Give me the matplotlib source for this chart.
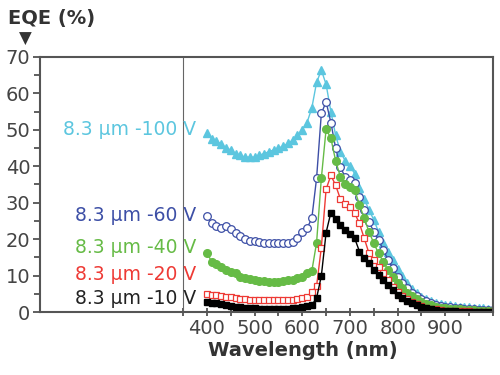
import numpy as np
import matplotlib
matplotlib.use('Agg')
from matplotlib import pyplot as plt

wavelength = list(range(400, 1001, 10))

eqe_100 = [49, 47.5, 47, 46, 45, 44.5, 43.5, 43, 42.5, 42.5,
           42.5, 43, 43.5, 44, 44.5, 45, 45.5, 46.3, 47.2, 48.5,
           50, 52, 56, 63, 66.4, 62.5, 55, 48.5, 44, 41.5,
           40, 38, 34, 31, 28, 25.3, 22, 19, 16.6, 14.3,
           11.8, 9.8, 8, 6.4, 5.2, 4.2, 3.5, 3, 2.6, 2.3,
           2.0, 1.8, 1.6, 1.5, 1.4, 1.3, 1.2, 1.1, 1.0, 0.9, 0.8]
eqe_60 = [26.4, 24.3, 23.6, 23, 23.6, 22.7, 21.8, 20.9, 20.1, 19.6,
          19.4, 19.3, 19, 19, 19, 19, 19, 19, 19.3, 20.2,
          22, 23, 25.7, 36.7, 54.5, 57.7, 52, 45, 39.8, 37,
          36.2, 35.3, 31.7, 28, 24.8, 22, 19.8, 17, 14.3, 12,
          9.7, 7.9, 6.5, 5.3, 4.3, 3.5, 2.9, 2.4, 2.0, 1.7,
          1.5, 1.3, 1.1, 1.0, 0.9, 0.8, 0.7, 0.6, 0.6, 0.5, 0.5]
eqe_40 = [16.3, 13.8, 13.2, 12.4, 11.5, 11.1, 10.6, 9.5, 9.2, 9.0,
          8.8, 8.6, 8.4, 8.3, 8.3, 8.3, 8.4, 8.8, 8.8, 9.2,
          9.7, 10.6, 11.2, 19, 36.7, 50.2, 47.7, 41.5, 37.1, 35,
          34.4, 33.5, 29.4, 25.7, 22, 18.9, 16.1, 13.8, 11.5, 9.7,
          7.9, 6.5, 5.1, 4.3, 3.5, 2.8, 2.2, 1.8, 1.5, 1.2,
          1.0, 0.9, 0.8, 0.7, 0.6, 0.5, 0.5, 0.4, 0.4, 0.4, 0.4]
eqe_20 = [4.9, 4.7, 4.6, 4.5, 4.2, 4.0, 3.8, 3.6, 3.5, 3.3,
          3.3, 3.3, 3.3, 3.3, 3.3, 3.3, 3.3, 3.3, 3.4, 3.5,
          3.8, 4.2, 5.5, 7.1, 17.7, 33.7, 37.5, 34.8, 31, 29.6,
          28.7, 27.1, 24.3, 20.2, 16.1, 14.3, 12.4, 10.6, 8.8, 6.9,
          5.6, 4.4, 3.5, 2.8, 2.2, 1.6, 1.2, 0.9, 0.7, 0.5,
          0.4, 0.3, 0.3, 0.2, 0.2, 0.2, 0.1, 0.1, 0.1, 0.1, 0.1]
eqe_10 = [2.7, 2.6, 2.4, 2.1, 1.8, 1.6, 1.5, 1.3, 1.2, 1.0,
          1.0, 0.9, 0.9, 0.9, 0.9, 0.9, 0.9, 0.9, 1.0, 1.1,
          1.3, 1.6, 1.9, 3.8, 9.9, 21.8, 27.3, 25.5, 23.9, 22.5,
          21.5, 20.2, 16.6, 14.7, 13.4, 11.5, 10.2, 8.8, 7.4, 6.0,
          4.7, 3.8, 3.1, 2.6, 1.9, 1.5, 1.1, 0.8, 0.6, 0.4,
          0.3, 0.2, 0.2, 0.1, 0.1, 0.1, 0.1, 0.1, 0.1, 0.1, 0.1]

labels = ['8.3 µm -100 V', '8.3 µm -60 V', '8.3 µm -40 V', '8.3 µm -20 V', '8.3 µm -10 V']
label_y = [50, 26.6, 17.8, 10.4, 3.8]

plt.rcParams['font.family'] = ['DejaVu Sans']

fig = plt.figure(figsize=(5, 3.75), dpi=100)
ax = fig.add_axes([0.08, 0.168, 0.906, 0.68])

ax.plot(wavelength, eqe_100, marker='^', color='#5cc6df', ms=6, lw=1, mec='#5cc6df')
ax.plot(wavelength, eqe_60, marker='o', color='#3d4fa6', mfc='white', ms=5.5, mew=0.9, lw=1)
ax.plot(wavelength, eqe_40, marker='o', color='#66bb46', ms=5.5, lw=1)
ax.plot(wavelength, eqe_20, marker='s', color='#ee3a35', mfc='white', ms=5, mew=0.9, lw=1)
ax.plot(wavelength, eqe_10, marker='s', color='black', ms=5, lw=1)

colors = ['#5cc6df', '#3d4fa6', '#66bb46', '#ee3a35', '#222222']
for lab, y, c in zip(labels, label_y, colors):
    ax.text(377, y, lab, color=c, fontsize=13.5, ha='right', va='center')

ax.axvline(350, color='#666666', lw=0.8)

ax.set_xlim(50, 1000)
ax.set_ylim(0, 70)
ax.set_xticks(range(350, 1001, 50))
ax.set_xticklabels(['' if t < 400 or t > 900 or t % 100 else str(t)
                    for t in range(350, 1001, 50)])
ax.set_yticks(range(0, 71, 10))
ax.set_yticks(range(5, 70, 10), minor=True)
ax.tick_params(axis='both', colors='#444444', labelsize=14, width=1.2, length=5)
ax.tick_params(axis='y', which='minor', width=1.2, length=4, colors='#444444')
ax.tick_params(axis='y', pad=2)
ax.tick_params(axis='x', direction='inout', length=6, pad=2)
for s in ax.spines.values():
    s.set_color('#555555')
    s.set_linewidth(1.5)

ax.set_xlabel('Wavelength (nm)', fontsize=14, fontweight='bold', color='#333333',
              x=0.58, labelpad=2)
fig.text(0.016, 0.95, 'EQE (%)', fontsize=14, fontweight='bold', color='#333333',
         va='center')
fig.text(0.05, 0.897, '▼', fontsize=12, color='#333333', ha='center', va='center')

plt.savefig('out.png', dpi=100)
